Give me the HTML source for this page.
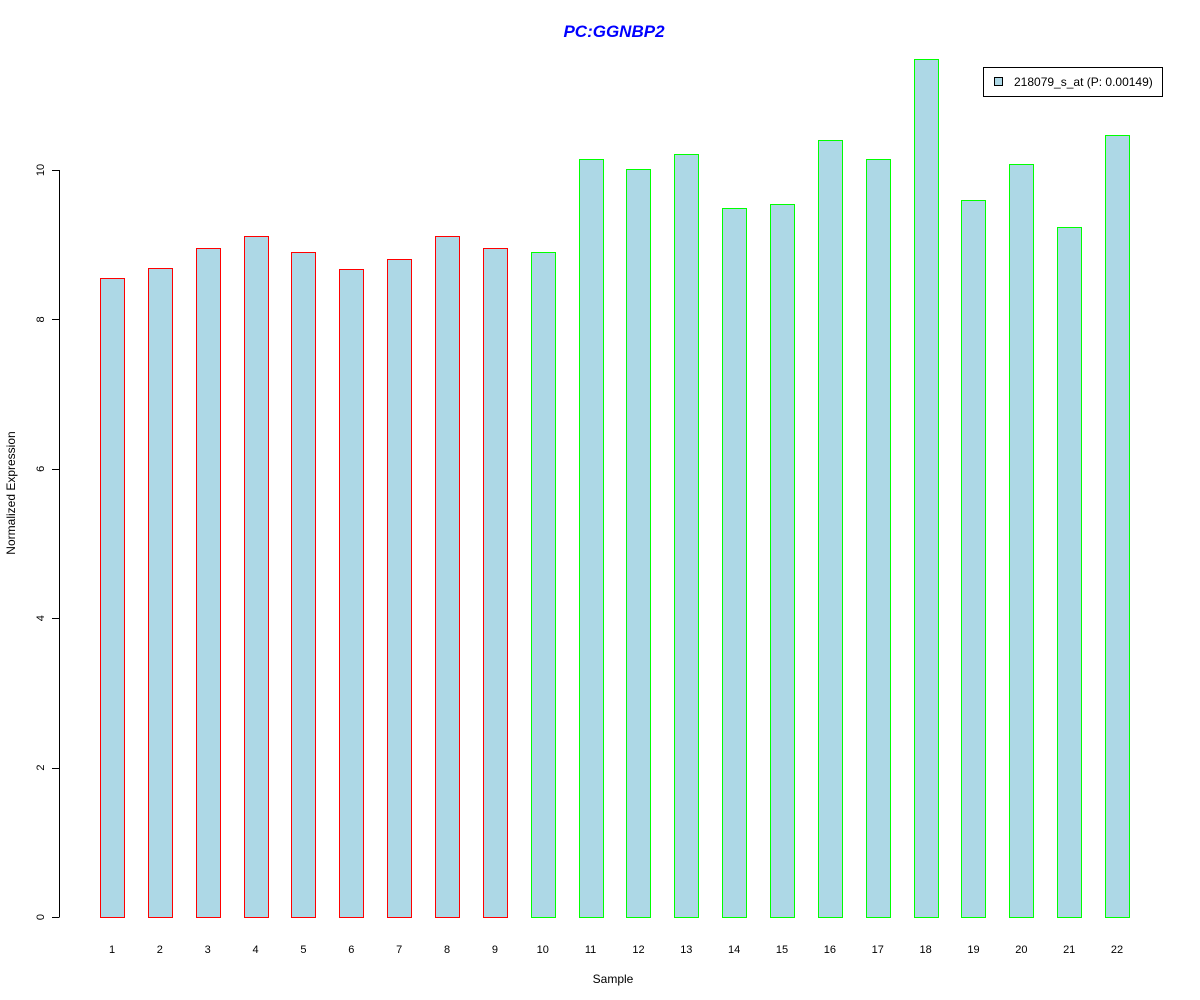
<!DOCTYPE html>
<html><head><meta charset="utf-8"><style>body{margin:0;background:#fff}svg{display:block;font-family:"Liberation Sans",Arial,sans-serif}</style></head>
<body>
<svg id="chart" width="1200" height="1000" viewBox="0 0 1200 1000">
<text x="614" y="37" text-anchor="middle" font-size="17" font-weight="bold" font-style="italic" fill="#0000ff">PC:GGNBP2</text>
<text x="613" y="983" text-anchor="middle" font-size="12">Sample</text>
<text transform="translate(15,493) rotate(-90)" text-anchor="middle" font-size="12">Normalized Expression</text>
<g>
<rect x="983.5" y="67.5" width="179" height="29" fill="#fff" stroke="#000"/>
<rect x="994.5" y="77.5" width="8" height="8" fill="#add8e6" stroke="#000"/>
<text x="1014" y="86" font-size="12">218079_s_at (P: 0.00149)</text>
</g>
<g id="bars"></g><g id="yaxis"></g><g id="xlabels"></g>
</svg>
<script>
const categories = ["1","2","3","4","5","6","7","8","9","10","11","12","13","14","15","16","17","18","19","20","21","22"];
const values = [8.55,8.69,8.96,9.12,8.90,8.67,8.81,9.12,8.96,8.90,10.15,10.01,10.21,9.49,9.54,10.40,10.15,11.49,9.60,10.08,9.24,10.47];
const groups = ["a","a","a","a","a","a","a","a","a","b","b","b","b","b","b","b","b","b","b","b","b","b"];
const yTicks = [0,2,4,6,8,10];
const NS="http://www.w3.org/2000/svg";
const y = v => 917 - v*74.7;
const x = i => 112 + i*47.86;
const bars=document.getElementById('bars'), ya=document.getElementById('yaxis'), xl=document.getElementById('xlabels');
function mk(tag,attrs,parent){const e=document.createElementNS(NS,tag);for(const k in attrs)e.setAttribute(k,attrs[k]);parent.appendChild(e);return e;}
values.forEach((v,i)=>{
  const left=Math.round(x(i)-12)+0.5, top=Math.round(y(v))+0.5;
  const r=mk('rect',{x:left,y:top,width:24,height:917-top+0.5,fill:'#add8e6',stroke:groups[i]==='a'?'#ff0000':'#00ff00'},bars);
  
  
  const t=mk('text',{x:x(i),y:953,'text-anchor':'middle','font-size':11},xl);
  t.textContent=categories[i];
  
  
});
const ax=mk('line',{x1:59.5,x2:59.5,y1:y(0),y2:y(10),stroke:'#000'},ya);


yTicks.forEach(v=>{
  const yy=Math.round(y(v))+0.5;
  const l=mk('line',{x1:52,x2:59.5,y1:yy,y2:yy,stroke:'#000'},ya);
  
  
  const t=mk('text',{transform:`translate(44,${y(v)}) rotate(-90)`,'text-anchor':'middle','font-size':11},ya);
  t.textContent=String(v);
  
  
});
</script>
</body></html>
